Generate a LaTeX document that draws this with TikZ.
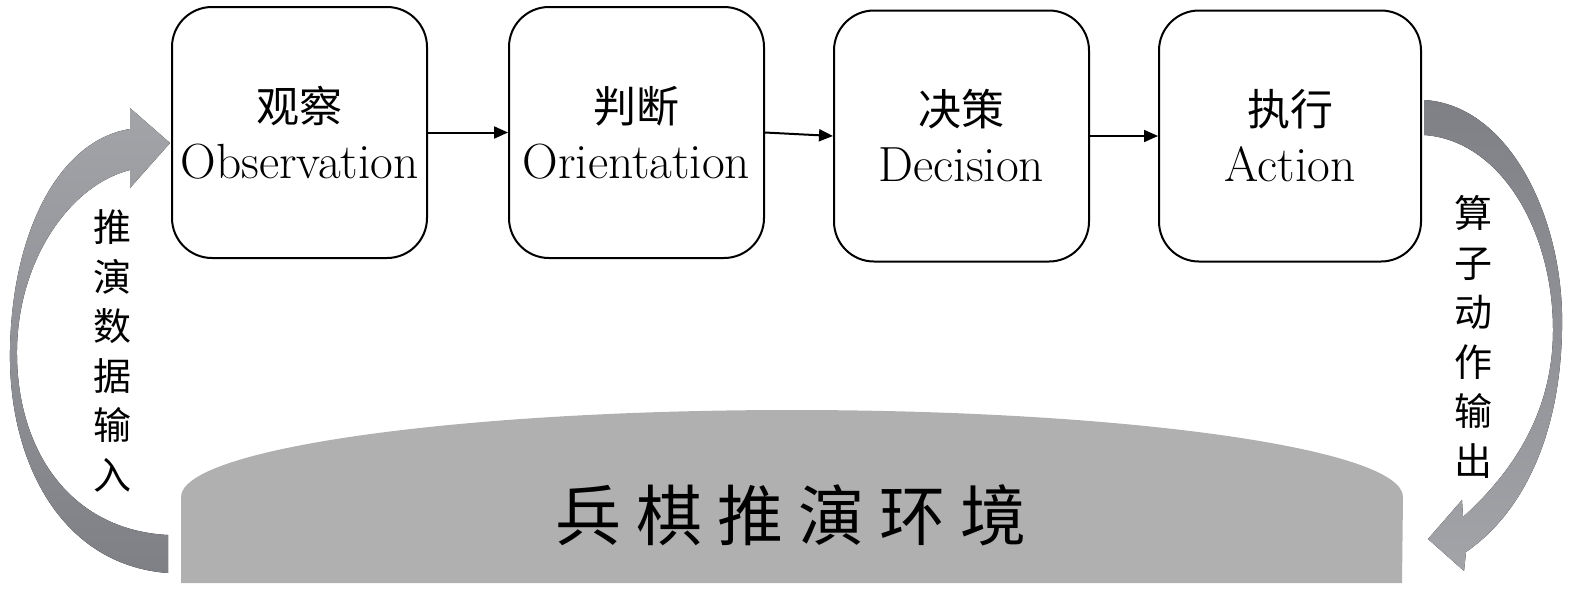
\documentclass[tikz,border=0pt]{standalone}
\usepackage{fontspec}
\newfontfamily\cjk{Noto Sans CJK SC}
\usetikzlibrary{arrows.meta}
\definecolor{envgray}{HTML}{B0B0B0}
\definecolor{arrlight}{HTML}{A3A4A8}
\definecolor{arrdark}{HTML}{7E8086}
\begin{document}
\begin{tikzpicture}[x=0.5pt,y=-0.5pt,
  stage/.style={draw, line width=1pt, rounded corners=20pt, minimum height=125.5pt,
    align=center, inner sep=0pt, font=\fontsize{24.7}{28}\selectfont},
  cjkin/.style={},
  flow/.style={-{Triangle[length=7pt,width=6pt]}, line width=1pt},
  vlabel/.style={align=center, inner sep=0pt, font=\cjk\fontsize{19}{24.8}\selectfont}]
\useasboundingbox (0,0) rectangle (1575,596);

% stages
\node[stage, minimum width=127.5pt] (obs) at (299.5,132.5) {{\cjk\fontsize{21.5}{28}\selectfont 观察}\\Observation};
\node[stage, minimum width=127.5pt] (ori) at (636.5,132.5) {{\cjk\fontsize{21.5}{28}\selectfont 判断}\\Orientation};
\node[stage, minimum width=127.5pt] (dec) at (961.5,136) {{\cjk\fontsize{21.5}{28}\selectfont 决策}\\Decision};
\node[stage, minimum width=131pt] (act) at (1290,136) {{\cjk\fontsize{21.5}{28}\selectfont 执行}\\Action};

\draw[flow] (obs.east) -- (ori.west);
\draw[flow] (ori.east) -- (dec.west);
\draw[flow] (dec.east) -- (act.west);

% environment
\fill[envgray] (181,583) -- (181,497) arc[start angle=180, end angle=0, x radius=305.5pt, y radius=43.5pt] -- (1402,583) -- cycle;
\node[font=\cjk\fontsize{33}{38}\selectfont, inner sep=0pt] (env) at (791,515)
  {兵\hspace{7.5pt}棋\hspace{7.5pt}推\hspace{7.5pt}演\hspace{7.5pt}环\hspace{7.5pt}境};

% left curved arrow (input)
\fill[top color=arrlight, bottom color=arrdark]
  (168,573) .. controls (60,565) and (8,460) .. (10,350)
  .. controls (12,230) and (60,140) .. (130,129)
  -- (130,108) -- (170,143) -- (130,188) -- (130,170)
  .. controls (70,185) and (18,260) .. (17,350)
  .. controls (16,450) and (70,530) .. (168,535) -- cycle;
\node[vlabel] (inlbl) at (112,351) {推\\演\\数\\据\\输\\入};

% right curved arrow (output)
\fill[top color=arrdark, bottom color=arrlight]
  (1424,100) .. controls (1510,105) and (1565,220) .. (1562,330)
  .. controls (1560,440) and (1520,515) .. (1466,552)
  -- (1464,571) -- (1428,539) -- (1462,500) -- (1463,517)
  .. controls (1515,470) and (1553,410) .. (1553,330)
  .. controls (1553,230) and (1500,140) .. (1424,135) -- cycle;
\node[vlabel] (outlbl) at (1473,337) {算\\子\\动\\作\\输\\出};
\end{tikzpicture}
\end{document}
